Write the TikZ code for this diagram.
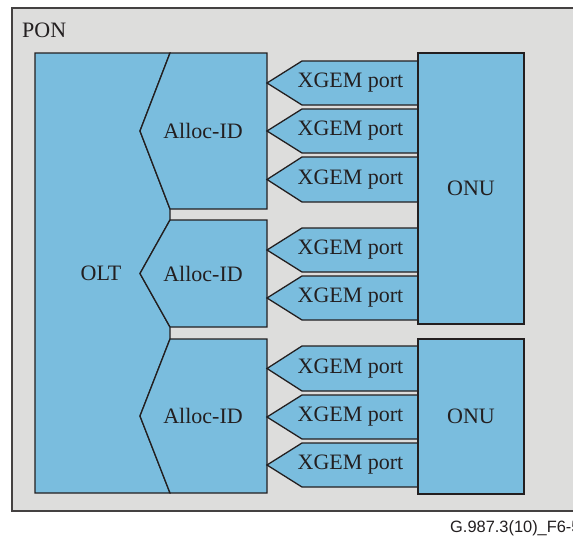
\documentclass[tikz,border=0pt]{standalone}
\usepackage{fontspec}
\setmainfont{Liberation Serif}
\newfontfamily\capfont{Liberation Sans}
\definecolor{ponbg}{HTML}{DDDDDC}
\definecolor{blk}{HTML}{7ABDDE}
\definecolor{edge}{HTML}{231F20}
\begin{document}
\begin{tikzpicture}[x=1pt,y=-1pt,
  shapeline/.style={draw=edge,line width=1.3pt,fill=blk,line join=miter},
  lbl/.style={font=\fontsize{22}{24}\selectfont,text=edge,inner sep=0pt},
  ]
\clip (0,0) rectangle (573,536);
\fill[white] (0,0) rectangle (573,536);
% PON frame
\draw[draw=edge!85,line width=2pt,fill=ponbg] (12,8) rectangle (590,511);
\node[lbl,anchor=base west] (pon) at (22,37.5) {PON};
% OLT
\draw[shapeline] (35,53) -- (170,53) -- (140,131) -- (170,209) -- (170,220) -- (140,273.5) -- (170,327) -- (170,339) -- (140,416) -- (170,493) -- (35,493) -- cycle;
\node[lbl] (olt) at (101,273) {OLT};
% Alloc-IDs
\draw[shapeline] (170,53) -- (267,53) -- (267,209) -- (170,209) -- (140,131) -- cycle;
\draw[shapeline] (170,220) -- (267,220) -- (267,327) -- (170,327) -- (140,273.5) -- cycle;
\draw[shapeline] (170,339) -- (267,339) -- (267,493) -- (170,493) -- (140,416) -- cycle;
\node[lbl] (a1) at (203,131) {Alloc-ID};
\node[lbl] (a2) at (203,273.5) {Alloc-ID};
\node[lbl] (a3) at (203,416) {Alloc-ID};
% XGEM ports
\foreach \t/\b/\n in {61/105/p1,109/153/p2,157/202/p3,228/272/p4,276/320/p5,346/391/p6,395/439/p7,443/487/p8}{
  \draw[shapeline] (267,{(\t+\b)/2}) -- (302,\t) -- (418,\t) -- (418,\b) -- (302,\b) -- cycle;
  \node[lbl] (\n) at (350.5,{(\t+\b)/2}) {XGEM port};
}
% ONUs
\draw[shapeline] (418,53) rectangle (524,324);
\node[lbl] (onu1) at (471,188.5) {ONU};
\draw[shapeline] (418,339) rectangle (524,494);
\node[lbl] (onu2) at (471,416.5) {ONU};
% caption
\node[anchor=base west,inner sep=0pt,font=\capfont\fontsize{16.4}{18}\selectfont,text=edge] (cap) at (450,532) {G.987.3(10)\_F6-5};
\end{tikzpicture}
\end{document}
